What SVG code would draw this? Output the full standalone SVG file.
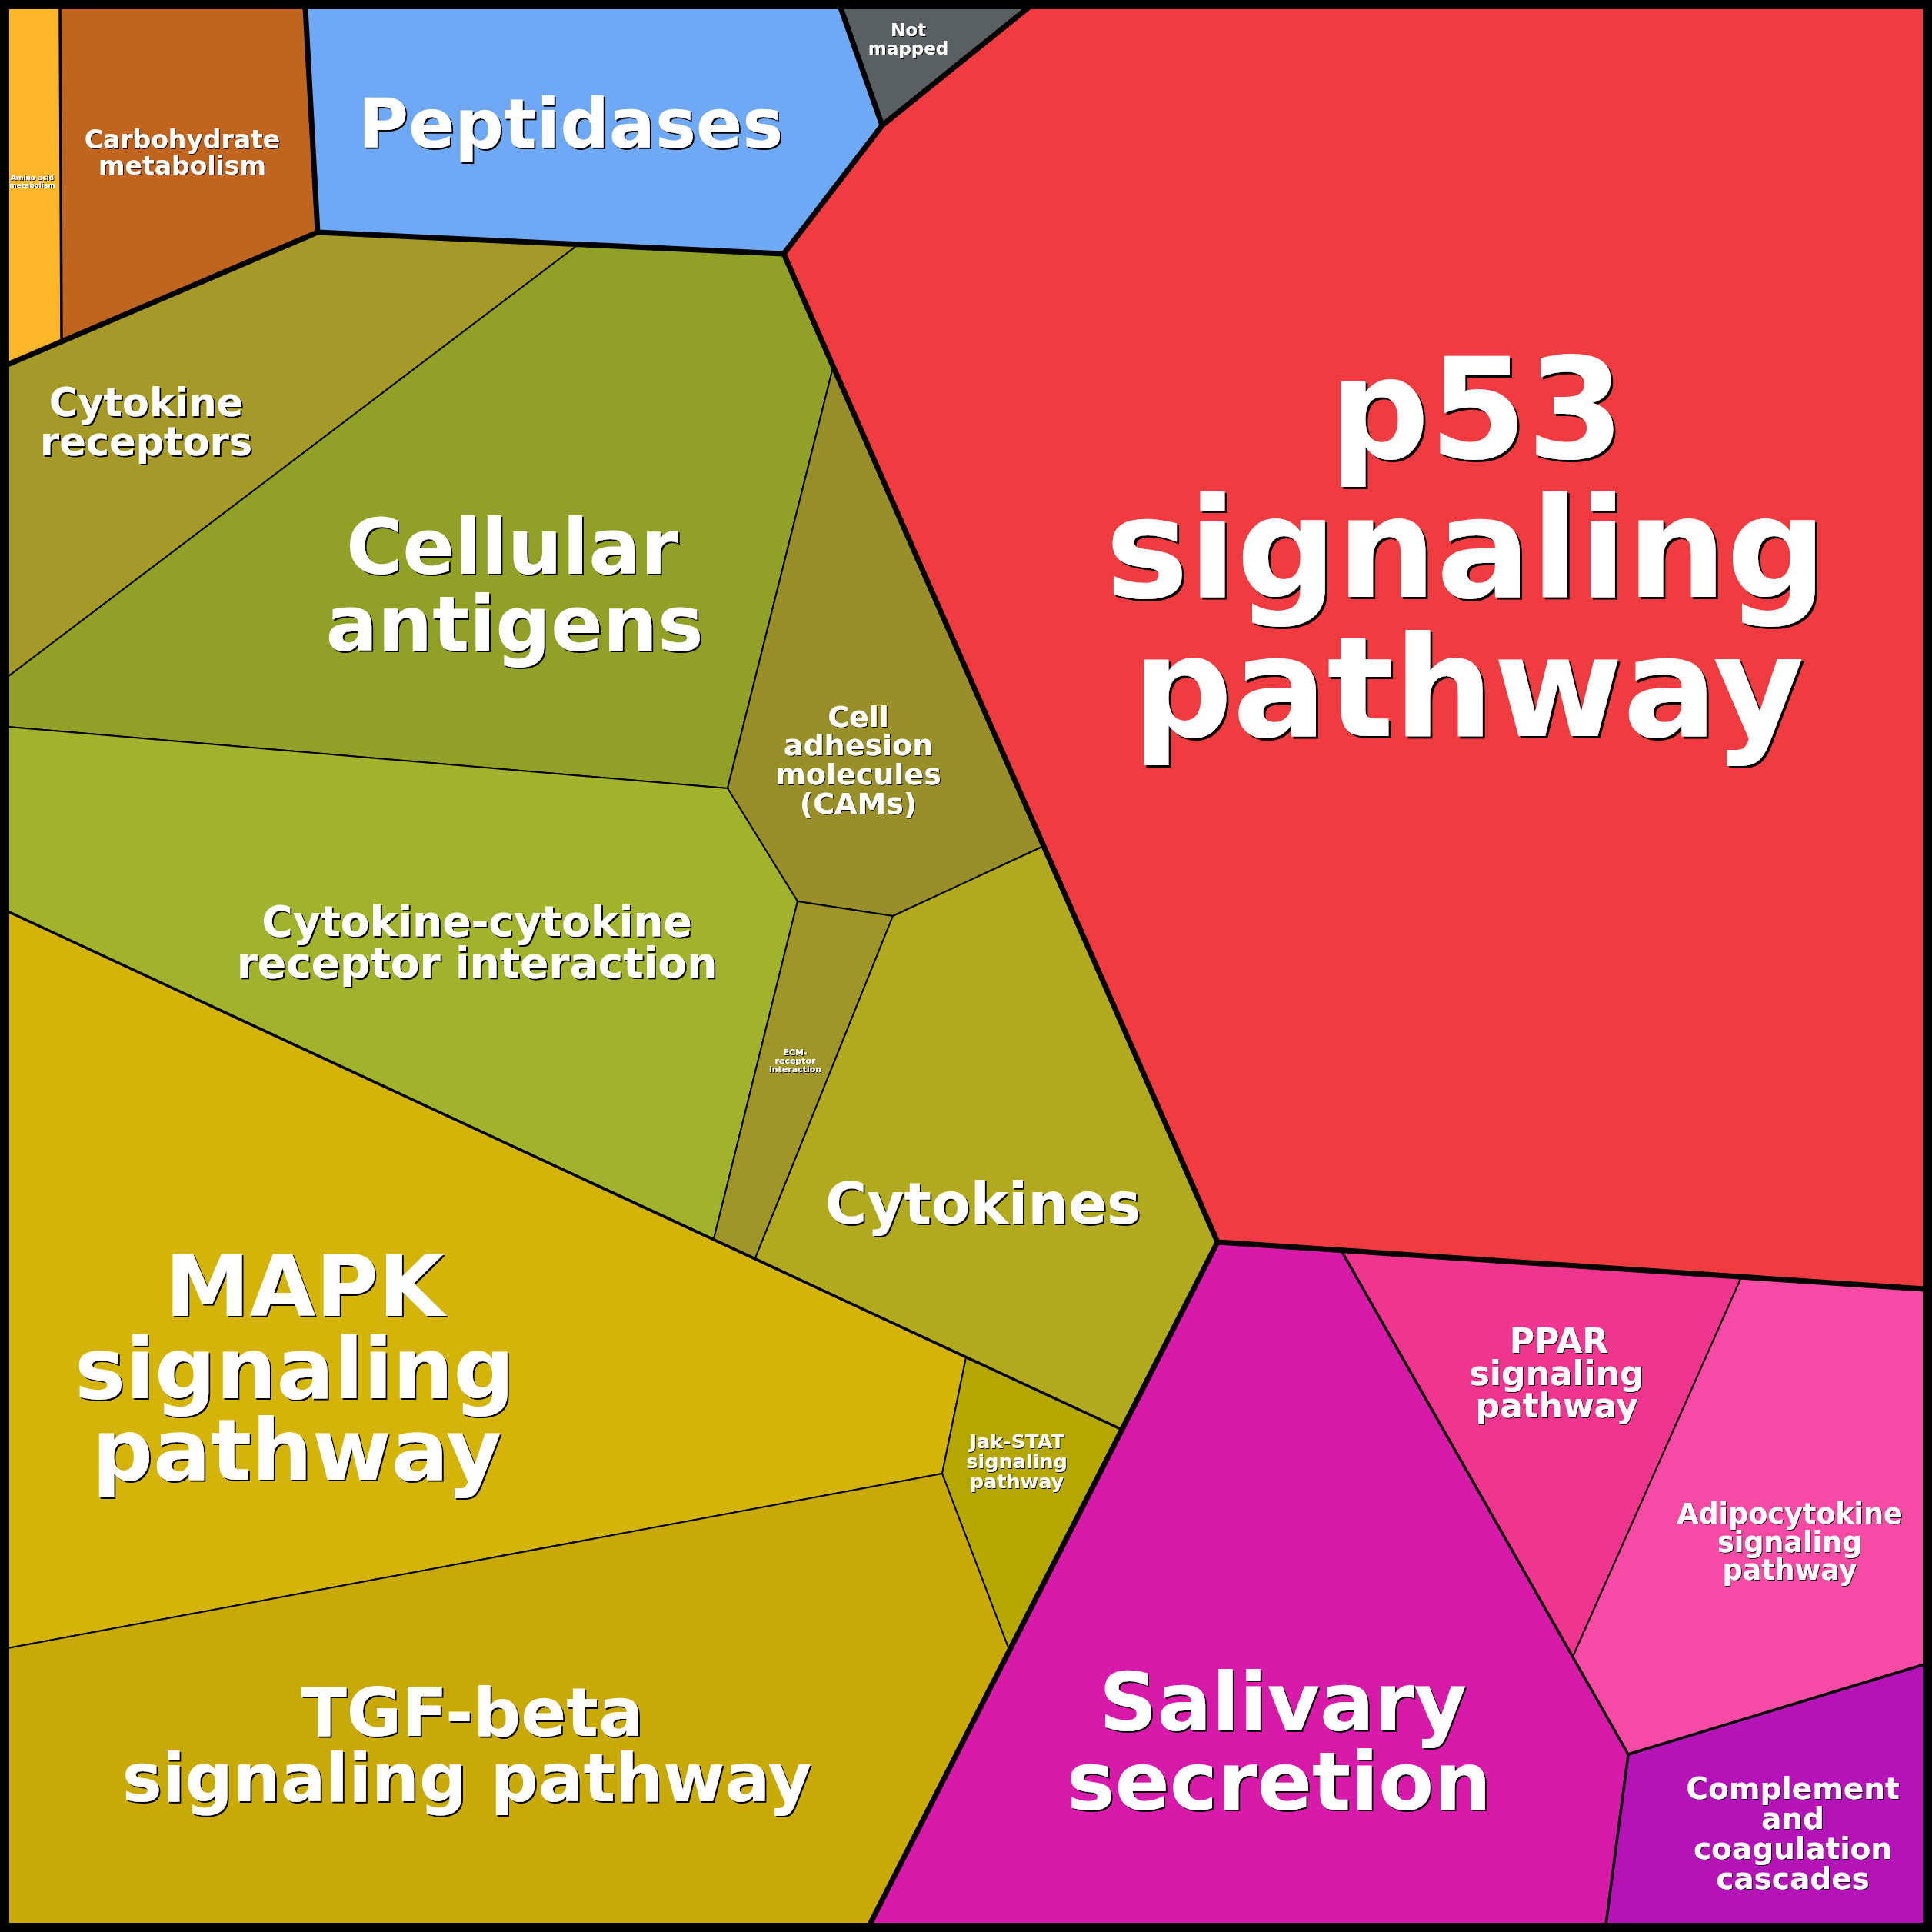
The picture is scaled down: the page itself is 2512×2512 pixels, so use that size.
<svg xmlns="http://www.w3.org/2000/svg" width="2512" height="2512" viewBox="0 0 2512 2512">
<defs>
<style>
.cell{stroke:#000;stroke-width:2;stroke-linejoin:round}
.lbl{font-family:"DejaVu Sans","Liberation Sans",sans-serif;font-weight:bold;fill:#fff;text-anchor:middle}
.thick{fill:none;stroke:#000;stroke-width:7;stroke-linejoin:round;stroke-linecap:round}
.med{fill:none;stroke:#000;stroke-width:3.5;stroke-linejoin:round;stroke-linecap:round}
</style>
<filter id="sh1" x="-10%" y="-10%" width="120%" height="130%">
<feOffset in="SourceAlpha" dx="1" dy="1" result="o"/>
<feFlood flood-color="#000"/><feComposite in2="o" operator="in" result="s"/>
<feMerge><feMergeNode in="s"/><feMergeNode in="SourceGraphic"/></feMerge>
</filter>
<filter id="sh2" x="-10%" y="-10%" width="120%" height="130%">
<feOffset in="SourceAlpha" dx="2" dy="2" result="o"/>
<feFlood flood-color="#000"/><feComposite in2="o" operator="in" result="s"/>
<feMerge><feMergeNode in="s"/><feMergeNode in="SourceGraphic"/></feMerge>
</filter>
<filter id="sh3" x="-10%" y="-10%" width="120%" height="130%">
<feOffset in="SourceAlpha" dx="3" dy="3" result="o"/>
<feFlood flood-color="#000"/><feComposite in2="o" operator="in" result="s"/>
<feMerge><feMergeNode in="s"/><feMergeNode in="SourceGraphic"/></feMerge>
</filter>
</defs>
<rect x="0" y="0" width="2512" height="2512" fill="#000"/>

<g id="amino-acid-metabolism">
<polygon class="cell" fill="#FDB628" points="10,10 78,10 80,443 10,474"/>
<text class="lbl" font-size="9" x="42" filter="url(#sh1)"><tspan x="42" y="234">Amino acid</tspan><tspan x="42" y="244">metabolism</tspan></text>
</g>
<g id="carbohydrate-metabolism">
<polygon class="cell" fill="#C0651F" points="78,10 397,10 413,302 80,443"/>
<text class="lbl" font-size="33" filter="url(#sh1)"><tspan x="237" y="193">Carbohydrate</tspan><tspan x="237" y="227">metabolism</tspan></text>
</g>
<g id="peptidases">
<polygon class="cell" fill="#6FA9F5" points="397,10 1093,10 1147,163 1019,330 413,302"/>
<text class="lbl" font-size="89" x="742" y="192" filter="url(#sh2)">Peptidases</text>
</g>
<g id="not-mapped">
<polygon class="cell" fill="#5A5F62" points="1093,10 1337,10 1147,163"/>
<text class="lbl" font-size="23" filter="url(#sh1)"><tspan x="1181" y="47">Not</tspan><tspan x="1181" y="71">mapped</tspan></text>
</g>
<g id="p53-signaling-pathway">
<polygon class="cell" fill="#F03C40" points="1337,10 2502,10 2502,1676 1583,1615 1019,330 1147,163"/>
<text class="lbl" font-size="182" filter="url(#sh3)"><tspan x="1920" y="595">p53</tspan><tspan x="1906" y="776">signaling</tspan><tspan x="1909" y="957">pathway</tspan></text>
</g>
<g id="cytokine-receptors">
<polygon class="cell" fill="#A59A28" points="413,302 752,318 10,880 10,474"/>
<text class="lbl" font-size="51" filter="url(#sh2)"><tspan x="190" y="541">Cytokine</tspan><tspan x="190" y="592">receptors</tspan></text>
</g>
<g id="cellular-antigens">
<polygon class="cell" fill="#91A128" points="752,318 1019,330 1083,478 946,1025 10,945 10,880"/>
<text class="lbl" font-size="100" filter="url(#sh2)"><tspan x="666" y="746">Cellular</tspan><tspan x="669" y="846">antigens</tspan></text>
</g>
<g id="cell-adhesion-molecules">
<polygon class="cell" fill="#988F28" points="1083,478 1355,1101 1161,1191 1037,1172 946,1025"/>
<text class="lbl" font-size="38" filter="url(#sh1)"><tspan x="1116" y="945">Cell</tspan><tspan x="1116" y="982">adhesion</tspan><tspan x="1116" y="1020">molecules</tspan><tspan x="1116" y="1058">(CAMs)</tspan></text>
</g>
<g id="cytokine-cytokine-receptor-interaction">
<polygon class="cell" fill="#A1B22D" points="10,945 946,1025 1037,1172 928,1611 10,1185"/>
<text class="lbl" font-size="55" filter="url(#sh2)"><tspan x="620" y="1217">Cytokine-cytokine</tspan><tspan x="620" y="1271">receptor interaction</tspan></text>
</g>
<g id="ecm-receptor-interaction">
<polygon class="cell" fill="#A09628" points="1037,1172 1161,1191 982,1636 928,1611"/>
<text class="lbl" font-size="11" filter="url(#sh1)"><tspan x="1034" y="1372">ECM-</tspan><tspan x="1034" y="1383">receptor</tspan><tspan x="1034" y="1394">interaction</tspan></text>
</g>
<g id="cytokines">
<polygon class="cell" fill="#B1AA1F" points="1161,1191 1355,1101 1583,1615 1457,1858 1256,1765 982,1636"/>
<text class="lbl" font-size="74" x="1278" y="1591" filter="url(#sh2)">Cytokines</text>
</g>
<g id="mapk-signaling-pathway">
<polygon class="cell" fill="#D4B408" points="10,1185 1256,1765 1225,1916 10,2143"/>
<text class="lbl" font-size="111" filter="url(#sh2)"><tspan x="396" y="1711">MAPK</tspan><tspan x="383" y="1818">signaling</tspan><tspan x="386" y="1924">pathway</tspan></text>
</g>
<g id="jak-stat-signaling-pathway">
<polygon class="cell" fill="#B4A800" points="1256,1765 1457,1858 1312,2145 1225,1916"/>
<text class="lbl" font-size="25.5" filter="url(#sh1)"><tspan x="1322" y="1883">Jak-STAT</tspan><tspan x="1322" y="1909">signaling</tspan><tspan x="1322" y="1935">pathway</tspan></text>
</g>
<g id="tgf-beta-signaling-pathway">
<polygon class="cell" fill="#C9A906" points="10,2143 1225,1916 1312,2145 1131,2502 10,2502"/>
<text class="lbl" font-size="87" filter="url(#sh2)"><tspan x="614" y="2257">TGF-beta</tspan><tspan x="607" y="2342">signaling pathway</tspan></text>
</g>
<g id="salivary-secretion">
<polygon class="cell" fill="#D81AAB" points="1583,1615 1744,1626 2117,2281 2088,2502 1131,2502"/>
<text class="lbl" font-size="105" filter="url(#sh2)"><tspan x="1668" y="2250">Salivary</tspan><tspan x="1663" y="2353">secretion</tspan></text>
</g>
<g id="ppar-signaling-pathway">
<polygon class="cell" fill="#EF358F" points="1744,1626 2264,1661 2045,2154"/>
<text class="lbl" font-size="44" filter="url(#sh1)"><tspan x="2027" y="1759">PPAR</tspan><tspan x="2024" y="1801">signaling</tspan><tspan x="2024" y="1843">pathway</tspan></text>
</g>
<g id="adipocytokine-signaling-pathway">
<polygon class="cell" fill="#F64BA5" points="2264,1661 2502,1676 2502,2164 2117,2281 2045,2154"/>
<text class="lbl" font-size="36.5" filter="url(#sh1)"><tspan x="2327" y="1981">Adipocytokine</tspan><tspan x="2327" y="2018">signaling</tspan><tspan x="2327" y="2054">pathway</tspan></text>
</g>
<g id="complement-and-coagulation-cascades">
<polygon class="cell" fill="#B413B8" points="2117,2281 2502,2164 2502,2502 2088,2502"/>
<text class="lbl" font-size="39" filter="url(#sh1)"><tspan x="2331" y="2339">Complement</tspan><tspan x="2331" y="2378">and</tspan><tspan x="2331" y="2417">coagulation</tspan><tspan x="2331" y="2456">cascades</tspan></text>
</g>

<g id="connectors">
<path class="med" d="M78,10 L80,443 M10,1185 L1457,1858 M1744,1626 L2117,2281 L2088,2502 M2117,2281 L2502,2164"/>
<path class="thick" d="M397,10 L413,302 L10,474 M413,302 L1019,330 L1147,163 L1093,10 M1147,163 L1337,10 M1019,330 L1583,1615 L2502,1676 M1583,1615 L1131,2502"/>
<rect x="6" y="6" width="2500" height="2500" fill="none" stroke="#000" stroke-width="12"/>
</g>
</svg>
